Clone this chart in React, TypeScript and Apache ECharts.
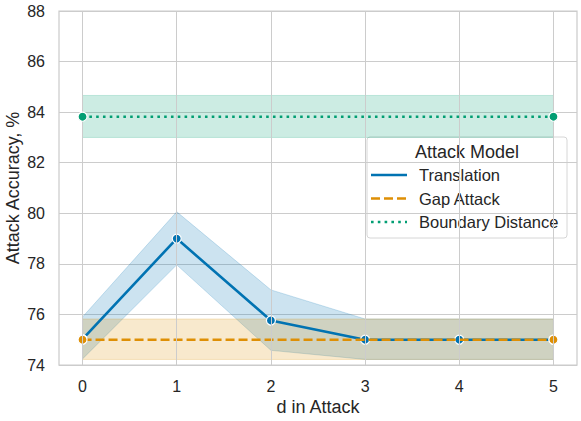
import React, { useEffect, useRef } from "react";
import * as echarts from "echarts";

const xTicks = [0, 1, 2, 3, 4, 5];
const yTicks = [74, 76, 78, 80, 82, 84, 86, 88];

const seriesNames = ["Translation", "Gap Attack", "Boundary Distance"];
const legendTitle = "Attack Model";
const xAxisName = "d in Attack";
const yAxisName = "Attack Accuracy, %";

const translationX = [0, 1, 2, 3, 4, 5];
const translationMean = [75.02, 79.0, 75.76, 75.0, 75.0, 75.0];
const translationLower = [74.24, 77.96, 74.58, 74.22, 74.22, 74.22];
const translationUpper = [75.9, 80.06, 76.97, 75.82, 75.82, 75.82];

const gapX = [0, 5];
const gapMean = [75.0, 75.0];
const gapLower = [74.22, 74.22];
const gapUpper = [75.82, 75.82];

const boundaryX = [0, 5];
const boundaryMean = [83.82, 83.82];
const boundaryLower = [83.0, 83.0];
const boundaryUpper = [84.66, 84.66];

const COLORS = ["#0173b2", "#de8f05", "#029e73"];
const DASHES: (string | number[])[] = ["solid", [9, 4], [2.6, 4.2]];
const FONT = "Liberation Sans, Arial, sans-serif";
const TEXT = "#262626";
const GRID = "#cccccc";

function band(name: string, xs: number[], lo: number[], hi: number[], color: string, z: number) {
  return {
    type: "custom",
    name: name + " band",
    z,
    silent: true,
    data: [[xs[0], lo[0]]],
    renderItem: (_params: any, api: any) => {
      const pts: number[][] = [];
      for (let i = 0; i < xs.length; i++) pts.push(api.coord([xs[i], hi[i]]));
      for (let i = xs.length - 1; i >= 0; i--) pts.push(api.coord([xs[i], lo[i]]));
      return {
        type: "polygon",
        shape: { points: pts },
        style: { fill: color, stroke: color, lineWidth: 1, opacity: 0.2 },
      };
    },
  };
}

function line(idx: number, xs: number[], ys: number[], z: number) {
  return {
    type: "line",
    name: seriesNames[idx],
    z,
    data: xs.map((x, i) => [x, ys[i]]),
    symbol: "circle",
    symbolSize: 9,
    showSymbol: true,
    itemStyle: { color: COLORS[idx], borderColor: "#ffffff", borderWidth: 1.2 },
    lineStyle: { color: COLORS[idx], width: 2.6, type: DASHES[idx] },
    emphasis: { disabled: true },
  };
}

export default function App() {
  const ref = useRef<HTMLDivElement>(null);
  useEffect(() => {
    if (!ref.current) return;
    const chart = echarts.init(ref.current, null, { renderer: "svg" });

    const lgX = 367, lgY = 137, lgW = 200, lgH = 101;
    const rowY = [175, 198.5, 222];
    const legendChildren: any[] = [
      {
        type: "rect",
        shape: { x: lgX, y: lgY, width: lgW, height: lgH, r: 3 },
        style: { fill: "rgba(255,255,255,0.8)", stroke: "#d6d6d6", lineWidth: 1 },
      },
      {
        type: "text",
        x: lgX + lgW / 2,
        y: 152,
        style: {
          text: legendTitle,
          fill: TEXT,
          font: `18px ${FONT}`,
          align: "center",
          verticalAlign: "middle",
        },
      },
    ];
    seriesNames.forEach((n, i) => {
      legendChildren.push({
        type: "line",
        shape: { x1: 371, y1: rowY[i], x2: 407, y2: rowY[i] },
        style: {
          stroke: COLORS[i],
          lineWidth: 2.6,
          lineDash: DASHES[i] === "solid" ? null : DASHES[i],
        },
      });
      legendChildren.push({
        type: "text",
        x: 419,
        y: rowY[i],
        style: {
          text: n,
          fill: TEXT,
          font: `16.5px ${FONT}`,
          align: "left",
          verticalAlign: "middle",
        },
      });
    });

    chart.setOption({
      animation: false,
      grid: {
        left: 59,
        top: 11,
        right: 4,
        bottom: 56,
        containLabel: false,
        outerBoundsMode: "none",
        show: true,
        borderColor: GRID,
        borderWidth: 1.25,
        backgroundColor: "#ffffff",
      },
      xAxis: {
        type: "value",
        min: -0.25,
        max: 5.25,
        name: xAxisName,
        nameLocation: "middle",
        nameGap: 33,
        nameMoveOverlap: false,
        nameTextStyle: { fontSize: 18, color: TEXT, fontFamily: FONT },
        axisLine: { show: false },
        axisTick: { show: false },
        splitLine: { show: false },
        axisLabel: {
          customValues: xTicks,
          fontSize: 16,
          color: TEXT,
          fontFamily: FONT,
          margin: 13,
        },
      },
      yAxis: {
        type: "value",
        min: yTicks[0],
        max: yTicks[yTicks.length - 1],
        interval: 2,
        name: yAxisName,
        nameLocation: "middle",
        nameGap: 37,
        nameMoveOverlap: false,
        nameTextStyle: { fontSize: 18, color: TEXT, fontFamily: FONT },
        axisLine: { show: false },
        axisTick: { show: false },
        splitLine: { show: true, lineStyle: { color: GRID, width: 1 } },
        axisLabel: { fontSize: 16, color: TEXT, fontFamily: FONT, margin: 14 },
      },
      series: [
        {
          type: "line",
          name: "vgrid",
          data: [],
          z: 0,
          silent: true,
          markLine: {
            silent: true,
            symbol: "none",
            label: { show: false },
            lineStyle: { color: GRID, width: 1, type: "solid" },
            data: xTicks.map((x) => ({ xAxis: x })),
          },
        },
        band("Translation", translationX, translationLower, translationUpper, COLORS[0], 1),
        band("Gap Attack", gapX, gapLower, gapUpper, COLORS[1], 1),
        band("Boundary Distance", boundaryX, boundaryLower, boundaryUpper, COLORS[2], 1),
        line(0, translationX, translationMean, 3),
        line(1, gapX, gapMean, 4),
        line(2, boundaryX, boundaryMean, 5),
      ],
      graphic: [{ type: "group", z: 100, children: legendChildren }],
    });
    return () => chart.dispose();
  }, []);
  return <div ref={ref} style={{ width: 581, height: 421, position: "absolute", left: 0, top: 0 }} />;
}
